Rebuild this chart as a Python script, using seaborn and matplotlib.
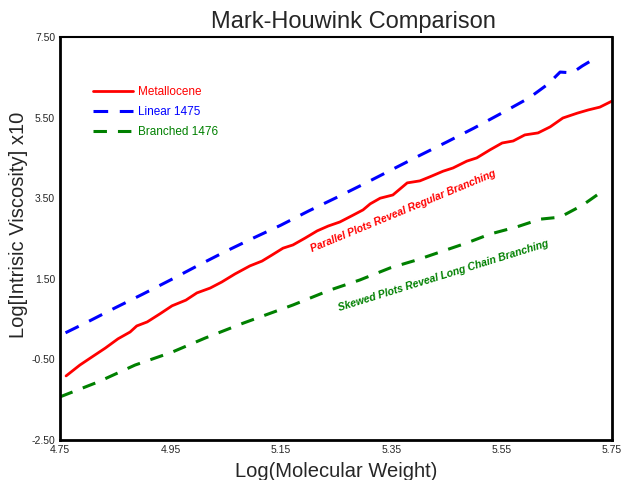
import matplotlib
matplotlib.use("Agg")
import matplotlib.pyplot as plt
import numpy as np
import pandas as pd
import seaborn as sns

# values
met_x = [4.761, 4.786, 4.810, 4.832, 4.855, 4.877, 4.889, 4.908, 4.931, 4.953,
         4.978, 4.998, 5.022, 5.043, 5.067, 5.094, 5.116, 5.134, 5.154, 5.172,
         5.194, 5.216, 5.236, 5.257, 5.281, 5.299, 5.312, 5.330, 5.353, 5.379,
         5.402, 5.420, 5.444, 5.462, 5.487, 5.505, 5.529, 5.551, 5.571, 5.592,
         5.616, 5.638, 5.661, 5.687, 5.707, 5.728, 5.750]
met_y = [-0.91, -0.64, -0.42, -0.22, 0.01, 0.18, 0.33, 0.43, 0.63, 0.83,
         0.97, 1.15, 1.27, 1.42, 1.62, 1.82, 1.94, 2.09, 2.26, 2.34,
         2.51, 2.69, 2.81, 2.91, 3.08, 3.21, 3.36, 3.50, 3.58, 3.88,
         3.93, 4.03, 4.17, 4.25, 4.42, 4.50, 4.70, 4.87, 4.92, 5.07,
         5.12, 5.27, 5.49, 5.61, 5.69, 5.76, 5.91]

lin_x = [4.76, 4.80, 4.85, 4.90, 4.95, 5.00, 5.05, 5.10, 5.15, 5.20, 5.25,
         5.30, 5.35, 5.40, 5.45, 5.50, 5.55, 5.60, 5.634, 5.656, 5.678,
         5.696, 5.723]
lin_y = [0.16, 0.43, 0.78, 1.12, 1.47, 1.83, 2.18, 2.51, 2.83, 3.18, 3.51,
         3.85, 4.20, 4.55, 4.89, 5.24, 5.61, 5.99, 6.33, 6.63, 6.61,
         6.78, 7.00]

br_x = [4.75, 4.819, 4.886, 4.953, 5.013, 5.082, 5.172, 5.239, 5.293, 5.348,
        5.397, 5.444, 5.487, 5.529, 5.578, 5.62, 5.656, 5.697, 5.725]
br_y = [-1.43, -1.06, -0.64, -0.32, 0.03, 0.40, 0.85, 1.22, 1.47, 1.77,
        1.97, 2.19, 2.39, 2.61, 2.79, 2.98, 3.03, 3.33, 3.60]

x_ticks = [4.75, 4.95, 5.15, 5.35, 5.55, 5.75]
y_ticks = [-2.5, -0.5, 1.5, 3.5, 5.5, 7.5]

sns.set_style("white")
plt.rcParams['font.family'] = ['Liberation Sans', 'DejaVu Sans']

fig = plt.figure(figsize=(6.27, 4.8), dpi=100)
ax = fig.add_axes([60/627, 40/480, 552/627, 403/480])

met = pd.DataFrame({"x": met_x, "y": met_y})
lin = pd.DataFrame({"x": lin_x, "y": lin_y})
br = pd.DataFrame({"x": br_x, "y": br_y})

sns.lineplot(data=met, x="x", y="y", color="#ff0000", lw=2, ax=ax,
             label="Metallocene")
sns.lineplot(data=lin, x="x", y="y", color="#0000ff", lw=2.2, ax=ax,
             linestyle=(0, (4.8, 3.8)), label="Linear 1475")
sns.lineplot(data=br, x="x", y="y", color="#008000", lw=2.2, ax=ax,
             linestyle=(0, (4.4, 3.6)), label="Branched 1476")

ax.set_xlim(4.75, 5.75)
ax.set_ylim(-2.5, 7.5)
ax.set_xticks(x_ticks)
ax.set_xticklabels([f"{v:.2f}" for v in x_ticks])
ax.set_yticks(y_ticks)
ax.set_yticklabels([f"{v:.2f}" for v in y_ticks])
ax.tick_params(direction="inout", length=5, width=1.5, labelsize=7.5,
               color="black", pad=1)
for s in ["left", "bottom", "right", "top"]:
    ax.spines[s].set_color("black")
    ax.spines[s].set_linewidth(2)
ax.spines["top"].set_linewidth(1.5)

ax.set_xlabel("Log(Molecular Weight)", fontsize=14.5)
ax.set_ylabel("Log[Intrisic Viscosity] x10", fontsize=14.5)
ax.xaxis.set_label_coords(0.5, -0.055)
ax.yaxis.set_label_coords(-0.058, 0.535)

fig.text(353/627, 1 - 22/480, "Mark-Houwink Comparison", fontsize=17,
         ha="center", va="center")

ax.text(5.371, 3.18, "Parallel Plots Reveal Regular Branching",
        color="#ff0000", fontsize=7.6, fontweight="bold", fontstyle="italic",
        rotation=22.5, ha="center", va="center", rotation_mode="anchor")
ax.text(5.444, 1.57, "Skewed Plots Reveal Long Chain Branching",
        color="#008000", fontsize=7.6, fontweight="bold", fontstyle="italic",
        rotation=17.2, ha="center", va="center", rotation_mode="anchor")

ax.legend(loc="upper left", bbox_to_anchor=(0.04, 0.905), frameon=False,
          fontsize=8.5, handlelength=3.4, labelspacing=0.7, handletextpad=0.4,
          labelcolor="linecolor")

fig.savefig("out.png", dpi=100)
